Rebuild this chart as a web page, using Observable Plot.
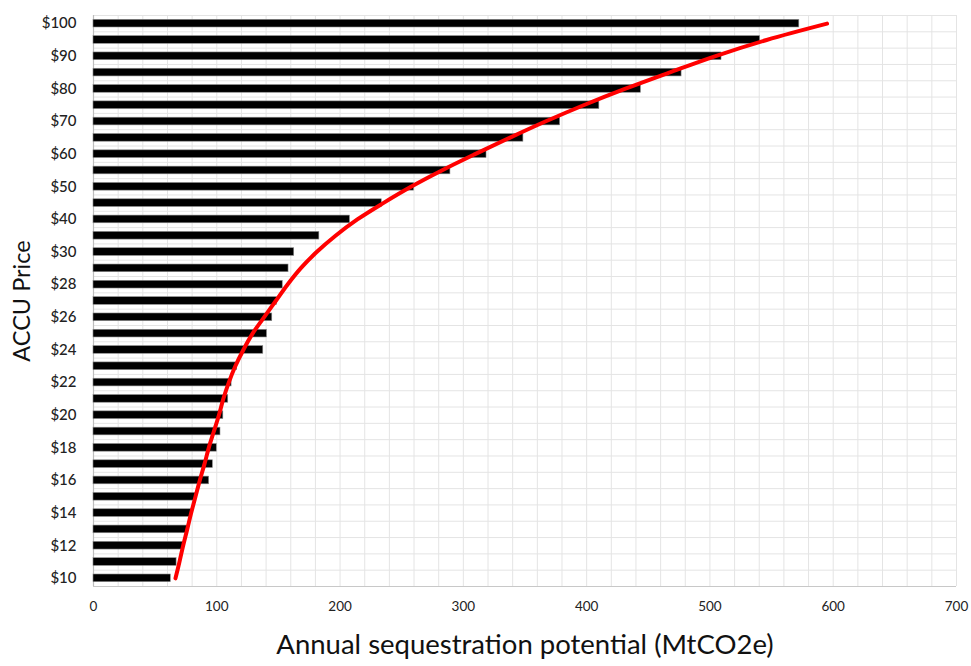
<!DOCTYPE html>
<html>
<head>
<meta charset="utf-8">
<script src="https://cdn.jsdelivr.net/npm/d3@7"></script>
<script src="https://cdn.jsdelivr.net/npm/@observablehq/plot@0.6"></script>
<style>
  html, body { margin: 0; padding: 0; background: #fff; }
  #chart svg { display: block; }
</style>
</head>
<body>
<div id="chart"></div>
<script>
// ACCU price categories (bottom to top)
const prices = ["$10","$11","$12","$13","$14","$15","$16","$17","$18","$19","$20",
  "$21","$22","$23","$24","$25","$26","$27","$28","$29","$30",
  "$35","$40","$45","$50","$55","$60","$65","$70","$75","$80","$85","$90","$95","$100"];

// Annual sequestration potential (MtCO2e) per price - bars
const potential = [62.7, 67.4, 73, 76.5, 80, 83, 93.8, 96.8, 100, 103, 105.3,
  109.3, 112, 116.5, 137.7, 140.7, 145, 148.8, 153.5, 158.2, 162.8,
  183.2, 208, 233.8, 260, 289.5, 318.8, 348.7, 378.5, 410.3, 444, 477, 509.4, 540.7, 572.5];

// Fitted supply curve (red line), read at each price row
const fitted = [66.5, 69.7, 72.7, 76, 79.2, 82.7, 86.2, 90, 93.5, 97.6, 101.7,
  105.3, 109.7, 115, 121.5, 129, 138.3, 147.8, 157.3, 168, 181,
  196.3, 214, 235, 257.5, 282.5, 309.5, 337.5, 366.5, 397.5, 431, 467, 504, 546, 595];

// Axis tick labels
const yTickLabels = ["$10","$12","$14","$16","$18","$20","$22","$24","$26","$28","$30",
  "$40","$50","$60","$70","$80","$90","$100"];
const xTicks = [0, 100, 200, 300, 400, 500, 600, 700];
const xGrid = d3.range(0, 701, 20);

const rows = prices.map((p, i) => ({price: p, value: potential[i], fit: fitted[i]}));

const W = 971, H = 666, mT = 15, mB = 80, mL = 93, mR = 15;
const step = (H - mT - mB) / prices.length;

const chart = Plot.plot({
  width: W,
  height: H,
  marginTop: mT,
  marginBottom: mB,
  marginLeft: mL,
  marginRight: mR,
  style: {fontFamily: "Lato, 'Open Sans', sans-serif", background: "#fff", color: "#222"},
  x: {domain: [0, 700]},
  y: {domain: prices.slice().reverse(), paddingInner: 0.53, paddingOuter: 0.265, round: false},
  marks: [
    Plot.gridX(xGrid, {stroke: "#e4e4e4", strokeOpacity: 1, strokeWidth: 1}),
    Plot.ruleY(prices, {y: d => d, dy: -step / 2, stroke: "#e4e4e4", strokeWidth: 1}),
    Plot.ruleY(["$10"], {y: d => d, dy: step / 2, stroke: "#c8c8c8", strokeWidth: 1}),
    Plot.ruleX([0], {stroke: "#bdbdbd", strokeWidth: 1.2}),
    Plot.barX(rows, {x: "value", y: "price", fill: "#000", stroke: "#8a8a8a", strokeWidth: 0.6}),
    Plot.line(rows, {x: "fit", y: "price", stroke: "#ff0000", strokeWidth: 4, curve: "catmull-rom", strokeLinecap: "round", strokeLinejoin: "round"}),
    Plot.axisY({ticks: yTickLabels, tickSize: 0, tickPadding: 17, fontSize: 15, fontWeight: 500, label: null}),
    Plot.axisX({ticks: xTicks, tickSize: 0, tickPadding: 15, fontSize: 13.5, label: null}),
    Plot.text(["Annual sequestration potential (MtCO2e)"], {text: d => d, frameAnchor: "bottom", dy: 67, fontSize: 27.5, fill: "#111"}),
    Plot.text(["ACCU Price"], {text: d => d, frameAnchor: "left", textAnchor: "middle", dx: -71, rotate: -90, fontSize: 23.5, fill: "#111"})
  ]
});

document.getElementById("chart").appendChild(chart);
</script>
</body>
</html>
